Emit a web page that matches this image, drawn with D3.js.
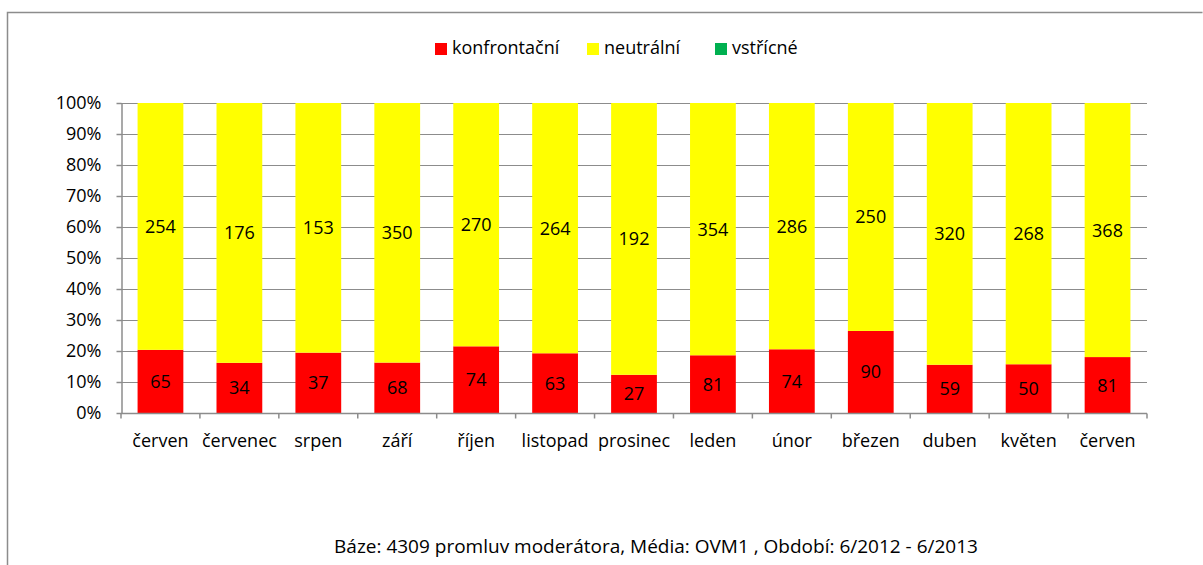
<!DOCTYPE html>
<html><head><meta charset="utf-8">
<script src="https://cdn.jsdelivr.net/npm/d3@7"></script>
<style>body{margin:0;background:#fff}svg{display:block}text{font-family:"Open Sans",sans-serif;fill:#000}</style>
</head><body><svg id="c" width="1203" height="565"></svg>
<script>
const categories = ["červen","červenec","srpen","září","říjen","listopad","prosinec","leden","únor","březen","duben","květen","červen"];
const seriesNames = ["konfrontační","neutrální","vstřícné"];
const seriesColors = ["#FF0000","#FFFF00","#00B050"];
const konfrontacni = [65,34,37,68,74,63,27,81,74,90,59,50,81];
const neutralni = [254,176,153,350,270,264,192,354,286,250,320,268,368];
const vstricne = [0,0,0,0,0,0,0,0,0,0,0,0,0];
const yTicks = [0,0.1,0.2,0.3,0.4,0.5,0.6,0.7,0.8,0.9,1];
const footer = "Báze: 4309 promluv moderátora, Média: OVM1 , Období: 6/2012 - 6/2013";

const svg = d3.select("#c");
svg.append("path").attr("d","M7.5,565 V12.5 H1202.5").attr("fill","none").attr("stroke","#8c8c8c").attr("stroke-width",1.5);

const L=121,R=1147,T=103,B=413;
const x = d3.scaleBand().domain(d3.range(categories.length)).range([L,R]).paddingInner(0.42).paddingOuter(0.21);
const y = d3.scaleLinear().domain([0,1]).range([B,T]);
const FS = 18;

// gridlines
svg.append("g").selectAll("line").data(yTicks.slice(1)).join("line")
  .attr("x1",L).attr("x2",R).attr("y1",d=>Math.round(y(d))+0.5).attr("y2",d=>Math.round(y(d))+0.5)
  .attr("stroke","#8c8c8c").attr("stroke-width",1);

const rows = categories.map((c,i)=>({i, vals:[konfrontacni[i],neutralni[i],vstricne[i]]}));
const stack = d3.stack().keys([0,1,2]).value((d,k)=>d.vals[k]).offset(d3.stackOffsetExpand);
const layers = stack(rows);

const g = svg.append("g");
layers.forEach((layer,k)=>{
  g.selectAll(null).data(layer).join("rect")
    .attr("x",d=>x(d.data.i)).attr("width",x.bandwidth())
    .attr("y",d=>y(d[1])).attr("height",d=>y(d[0])-y(d[1]))
    .attr("fill",seriesColors[k]);
  g.selectAll(null).data(layer.filter(d=>d.data.vals[k]>0)).join("text")
    .attr("x",d=>x(d.data.i)+x.bandwidth()/2).attr("y",d=>y((d[0]+d[1])/2))
    .attr("dy","0.36em").attr("text-anchor","middle").attr("font-size",FS)
    .text(d=>d.data.vals[k]);
});

// y axis
const ya = svg.append("g").attr("transform",`translate(${L+0.5},0)`)
  .call(d3.axisLeft(y).tickValues(yTicks).tickFormat(d3.format(".0%")).tickSize(5).tickSizeOuter(0));
ya.select(".domain").attr("stroke","#8c8c8c").attr("stroke-width",1.5);
ya.selectAll(".tick line").attr("stroke","#8c8c8c").attr("stroke-width",1.5);
ya.selectAll(".tick text").attr("font-size",FS).attr("x",-20).attr("font-family","Open Sans");

// x axis
const xa = svg.append("g").attr("transform",`translate(0,${B+0.5})`);
xa.append("line").attr("x1",L).attr("x2",R).attr("stroke","#8c8c8c").attr("stroke-width",1.5);
xa.selectAll("line.t").data(d3.range(categories.length+1)).join("line").attr("class","t")
  .attr("x1",d=>L+d*(R-L)/categories.length).attr("x2",d=>L+d*(R-L)/categories.length)
  .attr("y1",0).attr("y2",5).attr("stroke","#8c8c8c").attr("stroke-width",1.5);
xa.selectAll("text").data(categories).join("text")
  .attr("x",(d,i)=>x(i)+x.bandwidth()/2).attr("y",33).attr("text-anchor","middle").attr("font-size",FS)
  .text(d=>d);

// legend
const lx=[435,587,715];
const lg = svg.append("g");
seriesNames.forEach((n,k)=>{
  lg.append("rect").attr("x",lx[k]).attr("y",43).attr("width",12).attr("height",12).attr("fill",seriesColors[k]);
  lg.append("text").attr("x",lx[k]+17).attr("y",48).attr("dy","0.36em").attr("font-size",FS).text(n);
});

svg.append("text").attr("x",656).attr("y",546).attr("dy","0.36em").attr("text-anchor","middle").attr("font-size",19).text(footer);
</script></body></html>
